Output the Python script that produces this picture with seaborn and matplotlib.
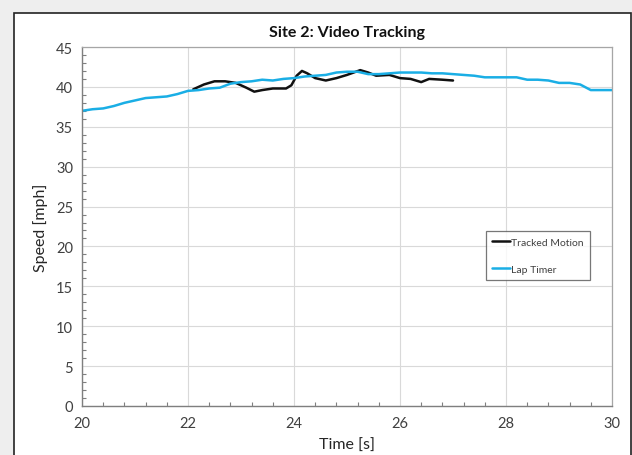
import numpy as np
import pandas as pd
import matplotlib
matplotlib.use("Agg")
import matplotlib.pyplot as plt
from matplotlib.patches import Rectangle
from matplotlib.ticker import MultipleLocator
import seaborn as sns

# Lap timer speed trace
lap_time = [20.0, 20.2, 20.4, 20.6, 20.8, 21.0, 21.2, 21.4, 21.6, 21.8,
            22.0, 22.2, 22.4, 22.6, 22.8, 23.0, 23.2, 23.4, 23.6, 23.8,
            24.0, 24.2, 24.4, 24.6, 24.8, 25.0, 25.2, 25.4, 25.6, 25.8,
            26.0, 26.2, 26.4, 26.6, 26.8, 27.0, 27.2, 27.4, 27.6, 27.8,
            28.0, 28.2, 28.4, 28.6, 28.8, 29.0, 29.2, 29.4, 29.6, 29.8, 30.0]
lap_speed = [37.0, 37.2, 37.3, 37.6, 38.0, 38.3, 38.6, 38.7, 38.8, 39.1,
             39.5, 39.6, 39.8, 39.9, 40.4, 40.6, 40.7, 40.9, 40.8, 41.0,
             41.1, 41.3, 41.4, 41.5, 41.8, 41.9, 41.9, 41.6, 41.6, 41.7,
             41.8, 41.8, 41.8, 41.7, 41.7, 41.6, 41.5, 41.4, 41.2, 41.2,
             41.2, 41.2, 40.9, 40.9, 40.8, 40.5, 40.5, 40.3, 39.6, 39.6, 39.6]

# Video-tracked speed trace
track_time = [22.1, 22.3, 22.5, 22.7, 22.9, 23.1, 23.25, 23.4, 23.6, 23.85,
              23.95, 24.05, 24.15, 24.25, 24.4, 24.6, 24.8, 25.0, 25.25, 25.4,
              25.55, 25.8, 26.0, 26.2, 26.4, 26.55, 26.8, 27.0]
track_speed = [39.7, 40.3, 40.7, 40.7, 40.5, 39.9, 39.4, 39.6, 39.8, 39.8,
               40.2, 41.4, 42.0, 41.7, 41.1, 40.8, 41.1, 41.5, 42.1, 41.8,
               41.4, 41.5, 41.1, 41.0, 40.6, 41.0, 40.9, 40.8]

x_ticks = [20, 22, 24, 26, 28, 30]
y_ticks = [0, 5, 10, 15, 20, 25, 30, 35, 40, 45]

sns.set_theme(style="white")
plt.rcParams["font.family"] = ["Lato", "DejaVu Sans"]

fig = plt.figure(figsize=(6.32, 4.56), dpi=100, facecolor="#eeeeee")
# white chart panel with dark border, kept behind the axes
fig.patches.append(Rectangle((14 / 632, -0.05), (631 - 14) / 632, 1.05 - 14 / 456,
                             transform=fig.transFigure, facecolor="white",
                             edgecolor="#222222", linewidth=1.2, zorder=-10))

ax = fig.add_axes([82 / 632, 1 - 407 / 456, (612 - 82) / 632, (407 - 48) / 456])
ax.set_facecolor("white")

tracked = pd.DataFrame({"Time": track_time, "Speed": track_speed})
lap = pd.DataFrame({"Time": lap_time, "Speed": lap_speed})

sns.lineplot(data=tracked, x="Time", y="Speed", ax=ax, color="#111111",
             linewidth=1.8, label="Tracked Motion")
sns.lineplot(data=lap, x="Time", y="Speed", ax=ax, color="#1aaee5",
             linewidth=1.8, label="Lap Timer")

ax.set_xlim(20, 30)
ax.set_ylim(0, 45)
ax.set_xticks(x_ticks)
ax.set_yticks(y_ticks)
ax.xaxis.set_minor_locator(MultipleLocator(0.4))
ax.yaxis.set_minor_locator(MultipleLocator(1))
ax.grid(True, which="major", color="#d9d9d9", linewidth=0.8)
ax.set_axisbelow(True)

for side in ["left", "bottom"]:
    ax.spines[side].set_color("#7f7f7f")
    ax.spines[side].set_linewidth(1.0)
for side in ["top", "right"]:
    ax.spines[side].set_color("#a6a6a6")
    ax.spines[side].set_linewidth(0.9)

ax.tick_params(axis="both", which="major", direction="inout", length=6,
               width=0.9, color="#7f7f7f", labelsize=10.5, labelcolor="#404040")
ax.tick_params(axis="x", which="minor", direction="in", length=3, width=0.8,
               color="#7f7f7f", bottom=True)
ax.tick_params(axis="y", which="minor", direction="in", length=3, width=0.8,
               color="#7f7f7f", left=True)
ax.tick_params(axis="x", which="major", pad=4)

ax.set_xlabel("Time [s]", fontsize=11.5, color="#262626", labelpad=6)
ax.set_ylabel("Speed [mph]", fontsize=11.5, color="#262626", labelpad=6)
ax.set_title("Site 2: Video Tracking", fontsize=11.5, fontweight="bold",
             color="#111111", pad=8)

leg = ax.legend(loc="upper left", bbox_to_anchor=(0.762, 0.487), fontsize=7.5,
                frameon=True, fancybox=False, handlelength=1.7, handletextpad=0.1,
                labelspacing=1.7, borderpad=0.6, borderaxespad=0)
leg.get_frame().set_edgecolor("#555555")
leg.get_frame().set_linewidth(0.9)
for t in leg.get_texts():
    t.set_color("#404040")

fig.savefig("out.png", dpi=100, facecolor=fig.get_facecolor())
